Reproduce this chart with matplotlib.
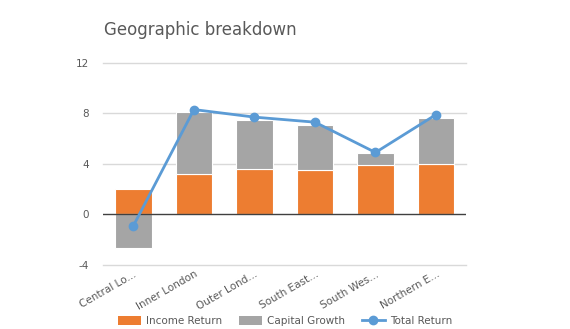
import numpy as np
import matplotlib.pyplot as plt
from matplotlib.lines import Line2D
from matplotlib.patches import Patch

plt.rcParams["axes.unicode_minus"] = False

regions = ["Central Lo...", "Inner London", "Outer Lond...", "South East...", "South Wes...", "Northern E..."]
income_return = [2.0, 3.2, 3.6, 3.5, 3.9, 4.0]
capital_growth = [-2.65, 4.9, 3.9, 3.6, 0.95, 3.6]
total_return = [-0.9, 8.3, 7.7, 7.3, 4.9, 7.9]

ORANGE = "#ED7D31"
GREY = "#A5A5A5"
BLUE = "#5B9BD5"
TXT = "#595959"

fig = plt.figure(figsize=(5.7, 3.29), dpi=100)
ax = fig.add_axes([0.181, 0.195, 0.637, 0.614])

x = np.arange(len(regions))
inc = np.array(income_return)
cap = np.array(capital_growth)
# capital growth sits on top of income when positive, below zero when negative
cap_base = np.where(cap >= 0, inc, 0)

ax.bar(x, inc, width=0.6, color=ORANGE, edgecolor="white", linewidth=0.8, zorder=2)
ax.bar(x, cap, bottom=cap_base, width=0.6, color=GREY, edgecolor="white", linewidth=0.8, zorder=2)
ax.plot(x, total_return, color=BLUE, lw=2, marker="o", ms=6, zorder=4)

ax.set_xlim(-0.5, len(regions) - 0.5)
ax.set_ylim(-4, 12)
ax.set_yticks([-4, 0, 4, 8, 12])
for yv in [-4, 4, 8, 12]:
    ax.axhline(yv, color="#D9D9D9", lw=1, zorder=0, clip_on=False)
ax.axhline(0, color="#404040", lw=1, zorder=3)
for s in ax.spines.values():
    s.set_visible(False)
ax.tick_params(length=0, colors=TXT, labelsize=7.5)
ax.tick_params(axis="y", pad=10)
ax.tick_params(axis="x", pad=3)
ax.set_xticks(x)
ax.set_xticklabels(regions, rotation=30, ha="right", rotation_mode="anchor", color=TXT, fontsize=7.5)

fig.text(0.182, 0.895, "Geographic breakdown", fontsize=12, color=TXT)

handles = [
    Patch(facecolor=ORANGE, label="Income Return"),
    Patch(facecolor=GREY, label="Capital Growth"),
    Line2D([0], [0], color=BLUE, lw=2, marker="o", ms=6, label="Total Return"),
]
fig.legend(handles=handles, loc="center", bbox_to_anchor=(0.5, 0.024), ncol=3,
           frameon=False, fontsize=7.5, labelcolor=TXT, handlelength=2.2,
           handleheight=1.0, columnspacing=1.6, handletextpad=0.5)

fig.savefig("out.png", dpi=100)
